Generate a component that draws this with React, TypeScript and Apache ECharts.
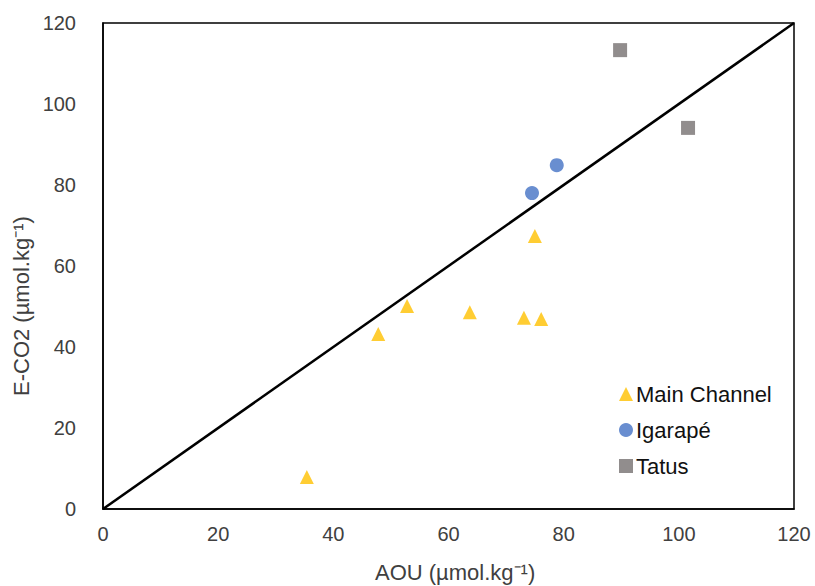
import React, { useEffect, useRef } from "react";
import * as echarts from "echarts";

const mainChannel: number[][] = [
  [35.4, 7.9],
  [47.8, 43.2],
  [52.8, 50.1],
  [63.7, 48.6],
  [73.1, 47.2],
  [76.1, 46.9],
  [75.0, 67.4],
];
const igarape: number[][] = [
  [74.5, 78.0],
  [78.8, 84.9],
];
const tatus: number[][] = [
  [89.8, 113.3],
  [101.6, 94.1],
];
const oneToOne: number[][] = [
  [0, 0],
  [120, 120],
];
const seriesNames = ["Main Channel", "Igarapé", "Tatus"];
const xTitle = "AOU (µmol.kg⁻¹)";
const yTitle = "E-CO2 (µmol.kg⁻¹)";

export default function App() {
  const ref = useRef<HTMLDivElement>(null);
  useEffect(() => {
    if (!ref.current) return;
    const chart = echarts.init(ref.current, null, { renderer: "svg" });
    const font = "Liberation Sans, Arial, sans-serif";
    chart.setOption({
      animation: false,
      backgroundColor: "#ffffff",
      textStyle: { fontFamily: font },
      grid: {
        left: 103,
        right: 21,
        top: 23,
        bottom: 77,
        show: true,
        borderColor: "#000000",
        borderWidth: 1.5,
      },
      xAxis: {
        type: "value",
        min: 0,
        max: 120,
        interval: 20,
        axisLine: { show: true, lineStyle: { color: "#000", width: 1.5 } },
        axisTick: { show: false },
        splitLine: { show: false },
        axisLabel: { color: "#404040", fontSize: 20, margin: 15, fontFamily: font },
      },
      yAxis: {
        type: "value",
        min: 0,
        max: 120,
        interval: 20,
        axisLine: { show: true, lineStyle: { color: "#000", width: 1.5 } },
        axisTick: { show: false },
        splitLine: { show: false },
        axisLabel: { color: "#404040", fontSize: 20, margin: 27, fontFamily: font },
      },
      legend: {
        orient: "vertical",
        left: 614,
        top: 378,
        itemWidth: 14,
        itemHeight: 14,
        itemGap: 14,
        data: seriesNames,
        textStyle: { fontSize: 22, color: "#111", fontFamily: font, padding: [0, 0, 0, -2] },
      },
      graphic: [
        {
          type: "text",
          left: 375,
          top: 561,
          style: { text: xTitle, fontSize: 22, fill: "#404040", fontFamily: font },
        },
        {
          type: "text",
          x: 10,
          y: 396,
          rotation: Math.PI / 2,
          style: { text: yTitle, fontSize: 22, fill: "#404040", fontFamily: font },
        },
      ],
      series: [
        {
          name: "1:1",
          type: "line",
          data: oneToOne,
          showSymbol: false,
          symbol: "none",
          lineStyle: { color: "#000", width: 2.5 },
          silent: true,
          z: 1,
        },
        {
          name: seriesNames[0],
          type: "scatter",
          data: mainChannel,
          symbol: "triangle",
          symbolSize: 14,
          itemStyle: { color: "#FFC000" },
          z: 3,
        },
        {
          name: seriesNames[1],
          type: "scatter",
          data: igarape,
          symbol: "circle",
          symbolSize: 14,
          itemStyle: { color: "#4472C4" },
          z: 3,
        },
        {
          name: seriesNames[2],
          type: "scatter",
          data: tatus,
          symbol: "rect",
          symbolSize: 14,
          itemStyle: { color: "#767171" },
          z: 3,
        },
      ],
    });
    return () => chart.dispose();
  }, []);
  return <div ref={ref} style={{ width: 815, height: 586, position: "absolute", left: 0, top: 0 }} />;
}
